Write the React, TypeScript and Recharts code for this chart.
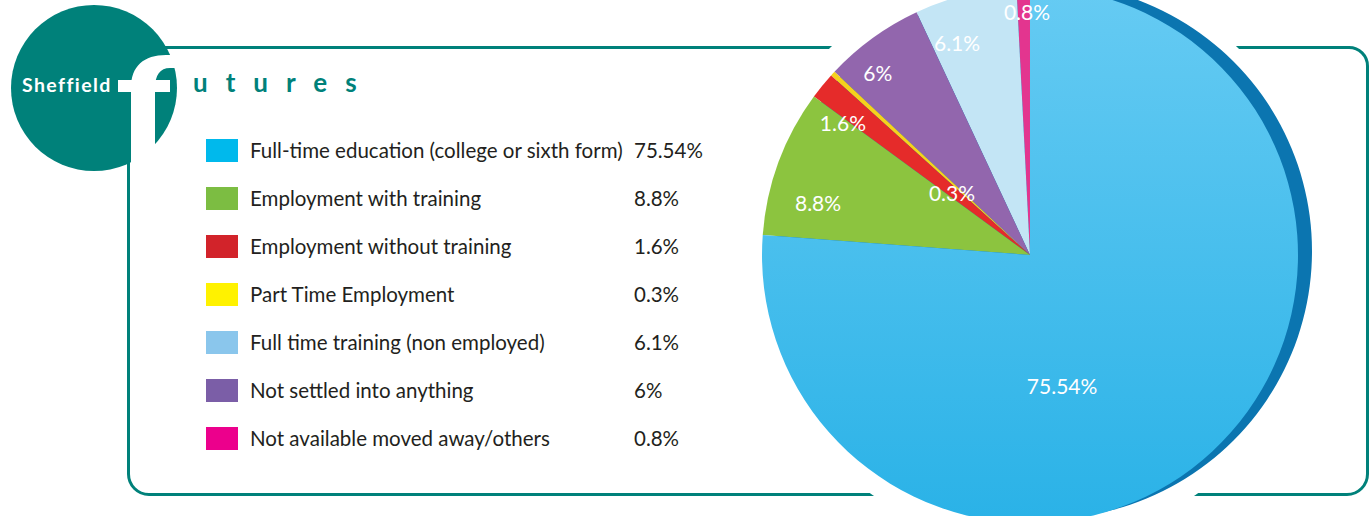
import { PieChart, Pie, Cell, Legend } from 'recharts'

// legend order
const categories = [
  'Full-time education (college or sixth form)',
  'Employment with training',
  'Employment without training',
  'Part Time Employment',
  'Full time training (non employed)',
  'Not settled into anything',
  'Not available moved away/others',
]
const shares = [75.54, 8.8, 1.6, 0.3, 6.1, 6, 0.8]
const legendColors = ['#00b9ec', '#7cbd42', '#d2232a', '#fff200', '#8ac6ec', '#7b5ea7', '#ec008c']
const sliceColors = ['url(#bigBlue)', '#8cc43f', '#e52b2a', '#f6d21c', '#c3e5f5', '#9266ad', '#e3358f']

// slices go counter-clockwise from 12 o'clock in this order
const pieOrder = [6, 4, 5, 3, 2, 1, 0]

// [radius fraction, angle nudge] for each value label (legend order)
const labelPlacement = [
  [0.5, -29],
  [0.815, 6.3],
  [0.856, 3.8],
  [0.372, 4.1],
  [0.837, 5],
  [0.888, 3.8],
  [0.907, -0.75],
]

const pieData = pieOrder.map((i) => ({ name: categories[i], value: shares[i], idx: i }))
const backing = [{ name: 'edge', value: 1 }]

const RAD = Math.PI / 180
const renderLabel = (props: any) => {
  const { cx, cy, midAngle, outerRadius, index } = props
  const i = pieOrder[index]
  const [f, da] = labelPlacement[i]
  const a = (midAngle + da) * RAD
  const x = cx + Math.cos(a) * outerRadius * f
  const y = cy - Math.sin(a) * outerRadius * f
  return (
    <text
      x={x}
      y={y}
      fill="#ffffff"
      textAnchor="middle"
      dominantBaseline="central"
      style={{ fontFamily: 'Lato, sans-serif', fontSize: 21 }}
    >
      {`${shares[i]}%`}
    </text>
  )
}

const LegendList = () => (
  <div style={{ fontFamily: 'Lato, sans-serif', fontSize: 20.5, color: '#231f20' }}>
    {categories.map((c, i) => (
      <div key={c} style={{ display: 'flex', alignItems: 'center', height: 48 }}>
        <span style={{ display: 'inline-block', width: 32, height: 23, background: legendColors[i], marginRight: 12 }} />
        <span style={{ display: 'inline-block', width: 384 }}>{c}</span>
        <span>{`${shares[i]}%`}</span>
      </div>
    ))}
  </div>
)

const Logo = () => (
  <svg width={400} height={180} style={{ position: 'absolute', left: 0, top: 0 }}>
    <circle cx={94} cy={88} r={83} fill="#00817a" />
    <path
      d="M131,178 L131,88 C131,66 144,55 166,55 L186,55 L186,68 L170,68 C160,68 155,75 155,88 L155,178 Z"
      fill="#ffffff"
    />
    <rect x={118} y={80} width={52} height={12} fill="#ffffff" />
    <text
      x={22}
      y={92}
      fill="#ffffff"
      style={{ fontFamily: 'Lato, sans-serif', fontSize: 19.5, fontWeight: 700, letterSpacing: 1.4 }}
    >
      Sheffield
    </text>
    <text
      x={193}
      y={92}
      fill="#00817a"
      style={{ fontFamily: 'Lato, sans-serif', fontSize: 26, fontWeight: 700, letterSpacing: 18 }}
    >
      utures
    </text>
  </svg>
)

export default function App() {
  return (
    <div style={{ position: 'absolute', left: 0, top: 0, width: 1371, height: 516, overflow: 'hidden', background: '#fff' }}>
      <div
        style={{
          position: 'absolute',
          left: 127,
          top: 46,
          width: 1242,
          height: 450,
          boxSizing: 'border-box',
          border: '3px solid #00817a',
          borderRadius: '30px 20px 22px 22px',
        }}
      />
      <div style={{ position: 'absolute', left: 0, top: 0 }}>
        <PieChart width={1371} height={516} margin={{ top: 0, right: 0, bottom: 0, left: 0 }}>
          <defs>
            <linearGradient id="bigBlue" x1="0" y1="0" x2="0" y2="1">
              <stop offset="0%" stopColor="#66cbf3" />
              <stop offset="100%" stopColor="#2ab2e7" />
            </linearGradient>
          </defs>
          <Pie
            data={backing}
            dataKey="value"
            cx={1034}
            cy={254}
            outerRadius={290}
            fill="#ffffff"
            stroke="none"
            legendType="none"
            isAnimationActive={false}
          />
          <Pie
            data={backing}
            dataKey="value"
            cx={1044}
            cy={251}
            outerRadius={268}
            fill="#0b75b0"
            stroke="none"
            legendType="none"
            isAnimationActive={false}
          />
          <Pie
            data={pieData}
            dataKey="value"
            nameKey="name"
            cx={1030}
            cy={255}
            outerRadius={268}
            startAngle={90}
            endAngle={450}
            stroke="none"
            labelLine={false}
            label={renderLabel}
            isAnimationActive={false}
          >
            {pieData.map((d) => (
              <Cell key={d.name} fill={sliceColors[d.idx]} />
            ))}
          </Pie>
          <Legend
            layout="vertical"
            align="center"
            verticalAlign="middle"
            content={() => <LegendList />}
            wrapperStyle={{ left: 206, top: 126, width: 520, height: 340 }}
          />
        </PieChart>
      </div>
      <Logo />
    </div>
  )
}
